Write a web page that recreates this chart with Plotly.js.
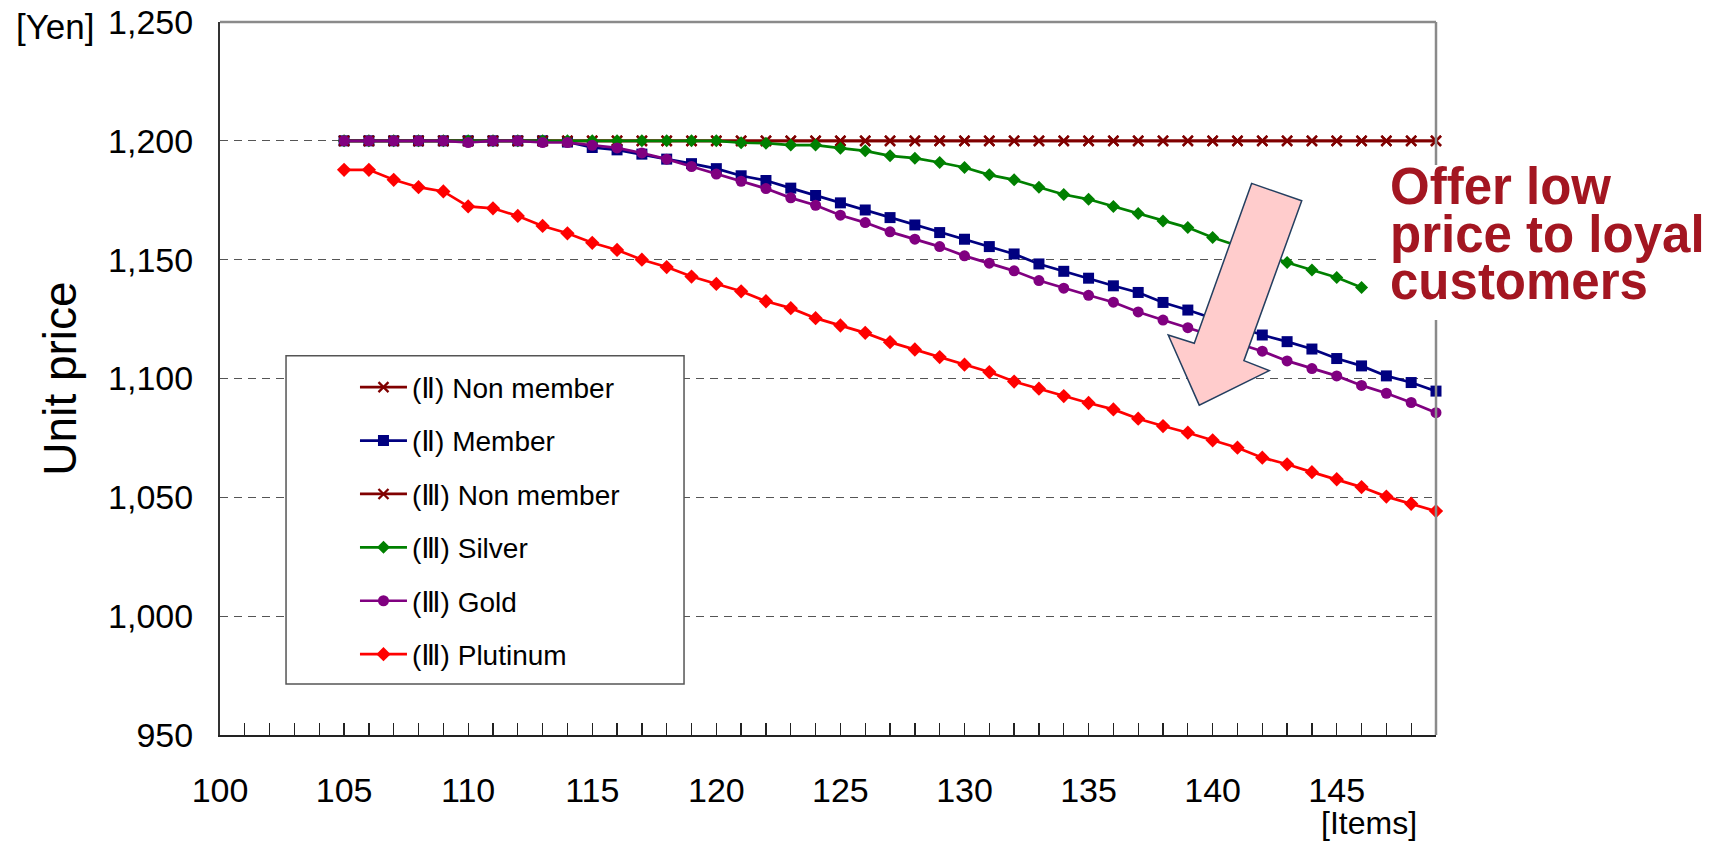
<!DOCTYPE html>
<html>
<head>
<meta charset="utf-8">
<script src="https://cdn.plot.ly/plotly-3.0.1.min.js"></script>
<style>
  html, body { margin: 0; padding: 0; background: #ffffff; }
  #chart { width: 1713px; height: 846px; }
</style>
</head>
<body>
<div id="chart"></div>
<script>
// ---- data ----
const items = [105, 106, 107, 108, 109, 110, 111, 112, 113, 114, 115, 116, 117, 118, 119,
               120, 121, 122, 123, 124, 125, 126, 127, 128, 129, 130, 131, 132, 133, 134,
               135, 136, 137, 138, 139, 140, 141, 142, 143, 144, 145, 146, 147, 148, 149];

const seriesNames = ['(Ⅱ) Non member', '(Ⅱ) Member', '(Ⅲ) Non member', '(Ⅲ) Silver', '(Ⅲ) Gold', '(Ⅲ) Plutinum'];

const nonMemberII = [1200, 1200, 1200, 1200, 1200, 1200, 1200, 1200, 1200, 1200, 1200, 1200, 1200, 1200, 1200,
                     1200, 1200, 1200, 1200, 1200, 1200, 1200, 1200, 1200, 1200, 1200, 1200, 1200, 1200, 1200,
                     1200, 1200, 1200, 1200, 1200, 1200, 1200, 1200, 1200, 1200, 1200, 1200, 1200, 1200, 1200];

const memberII = [1200, 1200, 1200, 1200, 1200, 1200, 1200, 1200, 1200, 1199.5, 1197.2, 1196.2, 1194.4, 1192.3, 1190.4,
                  1188.3, 1185.3, 1183.3, 1180.1, 1177.0, 1173.9, 1170.9, 1167.7, 1164.6, 1161.4, 1158.6, 1155.5, 1152.4, 1148.2, 1145.1,
                  1142.2, 1139.0, 1136.2, 1132.0, 1128.8, 1125.3, 1121.8, 1118.3, 1115.5, 1112.4, 1108.4, 1105.3, 1101.1, 1098.3, 1094.7];

const nonMemberIII = [1200, 1200, 1200, 1200, 1200, 1200, 1200, 1200, 1200, 1200, 1200, 1200, 1200, 1200, 1200,
                      1200, 1200, 1200, 1200, 1200, 1200, 1200, 1200, 1200, 1200, 1200, 1200, 1200, 1200, 1200,
                      1200, 1200, 1200, 1200, 1200, 1200, 1200, 1200, 1200, 1200, 1200, 1200, 1200, 1200, 1200];

const silverIII = [1200, 1200, 1200, 1200, 1200, 1200, 1200, 1200, 1200, 1200, 1200, 1200, 1200, 1200, 1200,
                   1200, 1199.2, 1199.0, 1198.2, 1198.2, 1196.9, 1195.8, 1193.7, 1192.7, 1190.9, 1188.8, 1185.7, 1183.6, 1180.5, 1177.4,
                   1175.4, 1172.4, 1169.4, 1166.3, 1163.5, 1159.3, 1156.0, 1152.4, 1148.8, 1145.6, 1142.5, 1138.3, null, null, null];

const goldIII = [1200, 1200, 1200, 1200, 1200, 1199.3, 1200, 1200, 1199.3, 1199.3, 1198.1, 1197.0, 1194.9, 1192.3, 1189.2,
                 1186.0, 1183.0, 1179.9, 1176.0, 1172.9, 1168.7, 1165.6, 1161.7, 1158.6, 1155.5, 1151.6, 1148.5, 1145.3, 1141.2, 1138.0,
                 1135.0, 1132.1, 1128.0, 1124.6, 1121.4, 1118.2, 1114.8, 1111.5, 1107.4, 1104.2, 1101.1, 1097.1, 1093.8, 1089.9, 1085.6];

const plutinumIII = [1187.8, 1187.8, 1183.6, 1180.5, 1178.7, 1172.4, 1171.6, 1168.4, 1164.2, 1161.1, 1157.1, 1154.1, 1150.0, 1146.9, 1142.9,
                     1139.8, 1136.7, 1132.5, 1129.6, 1125.4, 1122.3, 1119.2, 1115.3, 1112.2, 1109.0, 1105.8, 1102.7, 1098.7, 1095.7, 1092.6,
                     1089.7, 1087.0, 1083.1, 1080.0, 1077.2, 1074.0, 1070.9, 1066.7, 1063.9, 1060.6, 1057.6, 1054.3, 1050.3, 1047.3, 1044.2];

const calloutLines = ['Offer low', 'price to loyal', 'customers'];
const yUnitLabel = '[Yen]';
const xUnitLabel = '[Items]';
const yTitle = 'Unit price';

// ---- styling ----
const seriesValues = [nonMemberII, memberII, nonMemberIII, silverIII, goldIII, plutinumIII];
const seriesColors = ['#800000', '#000080', '#800000', '#008000', '#800080', '#FF0000'];
const seriesSymbols = ['x-thin', 'square', 'x-thin', 'diamond', 'circle', 'diamond'];
const seriesSizes = [10, 11, 10, 10, 11, 11];

const traces = seriesValues.map((vals, i) => ({
  type: 'scatter',
  mode: 'lines+markers',
  name: seriesNames[i],
  legendgroup: 'g' + i,
  x: items,
  y: vals,
  cliponaxis: false,
  line: { color: seriesColors[i], width: 2.7 },
  marker: {
    symbol: seriesSymbols[i],
    size: seriesSizes[i],
    color: seriesColors[i],
    line: { color: seriesColors[i], width: seriesSymbols[i] === 'x-thin' ? 2.3 : 0 }
  }
}));

const baseFont = 'Liberation Sans, Arial, sans-serif';
const tickFont = { family: baseFont, size: 34, color: '#000000' };

// plot area: left 220, right 1436, top 22, bottom 735
const calloutY = [0.7687, 0.7014, 0.6355];
const annotations = calloutLines.map((t, i) => ({
  xref: 'paper', yref: 'paper', x: 0.9605, y: calloutY[i],
  xanchor: 'left', yanchor: 'middle', showarrow: false,
  text: t,
  font: { family: baseFont, size: 51, color: '#A31621', weight: 'bold' }
}));
annotations.push({
  xref: 'paper', yref: 'paper', x: -0.1349, y: 0.993, xanchor: 'center', yanchor: 'middle',
  showarrow: false, text: yUnitLabel, font: { family: baseFont, size: 35, color: '#000' }
});
annotations.push({
  xref: 'paper', yref: 'paper', x: 0.9449, y: -0.124, xanchor: 'center', yanchor: 'middle',
  showarrow: false, text: xUnitLabel, font: { family: baseFont, size: 32, color: '#000' }
});

const arrowPath = 'M141.57,1182.1 L143.59,1174.8 L141.26,1107.5 L142.28,1103.3 L139.46,1088.8 L138.21,1118.3 L139.26,1114.8 Z';

const shapes = [
  { type: 'line', xref: 'paper', yref: 'paper', x0: 0, x1: 1, y0: 1, y1: 1, layer: 'above',
    line: { color: '#8a8a8a', width: 2.5 } },
  { type: 'line', xref: 'paper', yref: 'paper', x0: 1, x1: 1, y0: 0, y1: 1, layer: 'above',
    line: { color: '#8a8a8a', width: 2.5 } },
  // white backing behind the callout text (hides the frame there)
  { type: 'rect', xref: 'paper', yref: 'paper', x0: 0.953, x1: 1.01, y0: 0.582, y1: 0.7995, layer: 'above',
    fillcolor: '#ffffff', line: { width: 0 } },
  // legend frame
  { type: 'rect', xref: 'paper', yref: 'paper', x0: 0.0543, x1: 0.3816, y0: 0.0715, y1: 0.532, layer: 'above',
    fillcolor: '#ffffff', line: { color: '#555555', width: 1.5 } },
  // arrow
  { type: 'path', xref: 'x', yref: 'y', path: arrowPath, layer: 'above',
    fillcolor: '#FFCCCC', line: { color: '#243F60', width: 1.5 } }
];

const layout = {
  width: 1713, height: 846,
  margin: { l: 220, r: 277, t: 22, b: 111, pad: 0 },
  paper_bgcolor: '#ffffff', plot_bgcolor: '#ffffff',
  showlegend: true,
  legend: {
    x: 0.111, y: 0.5225, xanchor: 'left', yanchor: 'top',
    bgcolor: 'rgba(0,0,0,0)', borderwidth: 0,
    traceorder: 'grouped', tracegroupgap: 14, itemwidth: 47,
    font: { family: 'Liberation Sans, DejaVu Sans, Noto Sans CJK JP, sans-serif', size: 28, color: '#000' }
  },
  xaxis: {
    range: [100, 149], tick0: 100, dtick: 5,
    ticks: 'inside', ticklen: 12, tickwidth: 1.3, tickcolor: '#222',
    showline: true, linecolor: '#222', linewidth: 2,
    showgrid: false, zeroline: false,
    tickfont: tickFont, ticklabelstandoff: 24,
    minor: { tick0: 100, dtick: 1, ticks: 'inside', ticklen: 12, tickwidth: 1.3, tickcolor: '#222', showgrid: false }
  },
  yaxis: {
    range: [950, 1250], tick0: 950, dtick: 50, tickformat: ',',
    ticks: '', showline: true, linecolor: '#333', linewidth: 2,
    showgrid: true, gridcolor: '#555555', gridwidth: 1.2, griddash: '8px,6px',
    zeroline: false,
    tickfont: tickFont, ticklabelstandoff: 18,
    title: { text: yTitle, standoff: 17, font: { family: baseFont, size: 46, color: '#000' } }
  },
  annotations: annotations,
  shapes: shapes
};

Plotly.newPlot('chart', traces, layout, { staticPlot: true, displayModeBar: false });
</script>
</body>
</html>
